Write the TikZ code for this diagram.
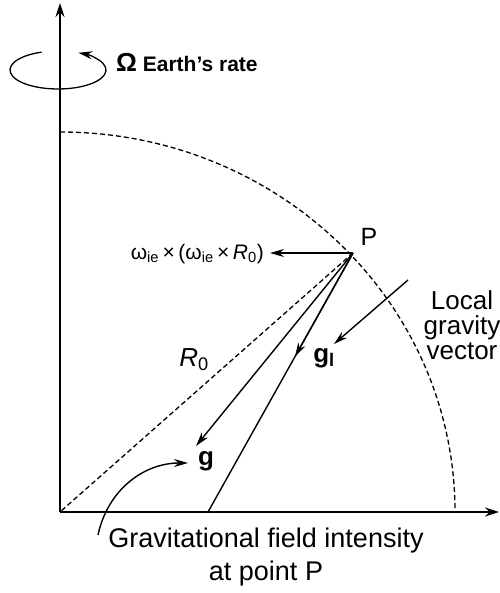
\documentclass[tikz,border=0pt]{standalone}
\usepackage{fontspec}
\setmainfont{Liberation Sans}
\usetikzlibrary{arrows.meta,calc}
\begin{document}
\begin{tikzpicture}[x=1pt,y=1pt,
  axis/.style={line width=1.6pt,-{Stealth[length=14pt,width=9pt]}},
  vec/.style={line width=1.4pt,-{Stealth[length=14pt,width=8pt]}},
  plain/.style={line width=1.4pt},
  dline/.style={line width=1.3pt,dash pattern=on 5pt off 3pt},
  lbl/.style={inner sep=0pt,font=\fontsize{26}{30}\selectfont}]
  \useasboundingbox (0,0) rectangle (499,593);

  % axes and meridian
  \coordinate (O) at (60,81);
  \coordinate (ytop) at (60,590);
  \coordinate (xend) at (499,81);
  \draw[axis] (O) -- (ytop);
  \draw[axis] (O) -- (xend);
  \draw[dline] (60,461) arc[start angle=90,end angle=0,x radius=395,y radius=380];

  % earth rotation
  \draw[vec,line width=1.3pt] (58,523) ++(110:48 and 19)
    arc[start angle=110,end angle=425,x radius=48,y radius=19];
  \node[lbl,anchor=west,font=\fontsize{21}{24}\selectfont\bfseries] (rate) at (116,530)
    {\fontsize{26}{28}\selectfont Ω\fontsize{21}{24}\selectfont\ Earth's rate};

  % point P and vectors
  \coordinate (P) at (353,340);
  \coordinate (F) at (208,81);
  \coordinate (cf) at (270,340);
  \coordinate (gt) at (196,147);
  \node[lbl,font=\fontsize{25}{28}\selectfont] (Plbl) at (369,356) {P};
  \node[lbl,anchor=east,font=\fontsize{21}{24}\selectfont] (wlbl) at (264,339)
    {ω\textsubscript{ie}\,×\,(ω\textsubscript{ie}\,×\,\textit{R}\textsubscript{0})};
  \draw[vec] (P) -- (cf);
  \draw[dline] (P) -- (O);
  \draw[vec] (P) -- (gt);
  \draw[plain] (P) -- (F);
  \draw[vec] (P) -- ($(P)!0.4!(F)$);

  \node[lbl] (R0) at (194,233) {\textit{R}\textsubscript{0}};
  \node[lbl,font=\fontsize{26}{30}\selectfont\bfseries] (g) at (206,132) {g};
  \node[lbl,font=\fontsize{26}{30}\selectfont\bfseries] (gl) at (324,235) {g\textsubscript{l}};

  % local gravity vector
  \node[lbl,align=center] (loc) at (462,268) {Local\\[-5pt]gravity\\[-5pt]vector};
  \coordinate (ls) at (408,313);
  \coordinate (le) at (334,249);
  \draw[vec] (ls) -- (le);

  % gravitational field intensity
  \node[lbl,align=center,font=\fontsize{27}{31}\selectfont] (gfi) at (266,36)
    {Gravitational field intensity\\[2pt]at point P};
  \coordinate (cs) at (98,58);
  \coordinate (ce) at (188,130);
  \draw[vec] (cs) to[out=78,in=180] (ce);
\end{tikzpicture}
\end{document}
